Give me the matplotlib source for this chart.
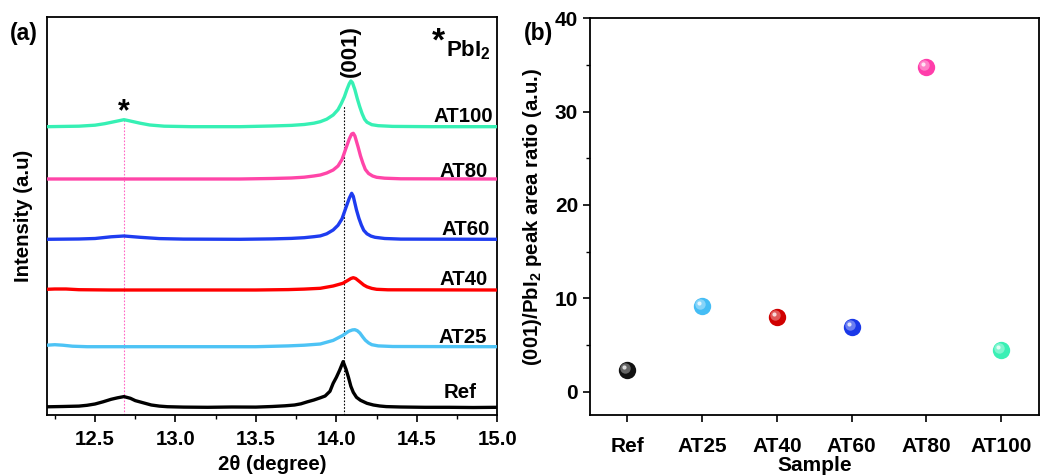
import matplotlib
matplotlib.use("Agg")
import matplotlib.pyplot as plt
from matplotlib.transforms import offset_copy
import matplotlib.colors as mcolors

plt.rcParams['font.family'] = ['Liberation Sans', 'DejaVu Sans']
plt.rcParams['font.weight'] = 'bold'
plt.rcParams['mathtext.default'] = 'regular'

# ---------------- Panel (a) data: XRD patterns (intensity above own baseline) ----------------
ref_x = [12.20, 12.30, 12.40, 12.45, 12.50, 12.55, 12.60, 12.64, 12.68, 12.72, 12.75, 12.80, 12.85, 12.90, 12.95,
         13.05, 13.20, 13.35, 13.50, 13.60, 13.68, 13.74, 13.78, 13.82, 13.86, 13.90, 13.93, 13.96, 13.98, 14.00,
         14.02, 14.042, 14.06, 14.075, 14.09, 14.105, 14.125, 14.15, 14.19, 14.23, 14.27, 14.31, 14.40, 14.55,
         14.70, 14.85, 15.00]
ref_y = [0.5, 0.8, 1.2, 2.0, 3.3, 5.5, 8.0, 9.5, 10.7, 9.0, 6.7, 4.5, 2.3, 1.2, 0.6,
         0.2, 0.0, 0.3, 0.2, 0.8, 1.5, 2.3, 3.5, 5.5, 7.3, 9.5, 11.3, 16.0, 24.0, 30.0,
         37.0, 45.7, 38.0, 30.0, 21.0, 15.0, 10.0, 7.0, 4.0, 2.3, 1.3, 0.7, 0.3, 0.0,
         0.0, -0.2, 0.0]

at25_x = [12.20, 12.25, 12.30, 12.36, 12.45, 13.00, 13.50, 13.70, 13.80, 13.90, 13.98, 14.04, 14.075, 14.10,
          14.115, 14.13, 14.146, 14.165, 14.18, 14.20, 14.22, 14.26, 14.35, 15.00]
at25_y = [1.5, 2.0, 1.5, 0.5, 0.0, 0.0, 0.0, 0.8, 1.5, 2.7, 6.3, 11.3, 15.3, 16.8,
          17.0, 16.0, 13.7, 9.5, 6.5, 3.8, 2.0, 0.8, 0.2, 0.0]

at40_x = [12.20, 12.25, 12.32, 12.40, 12.60, 13.00, 13.50, 13.70, 13.80, 13.90, 13.98, 14.04, 14.07, 14.09,
          14.105, 14.12, 14.145, 14.17, 14.19, 14.22, 14.25, 14.32, 15.00]
at40_y = [0.7, 1.0, 1.0, 0.3, 0.0, 0.0, 0.0, 0.4, 0.9, 1.7, 4.0, 6.7, 9.5, 11.5,
          12.3, 11.5, 8.3, 5.0, 3.2, 1.6, 0.7, 0.2, 0.0]

at60_x = [12.20, 12.40, 12.50, 12.60, 12.68, 12.78, 12.90, 13.05, 13.40, 13.60, 13.72, 13.80, 13.86, 13.90,
          13.94, 13.98, 14.01, 14.035, 14.06, 14.08, 14.095, 14.105, 14.125, 14.14, 14.155, 14.17, 14.19,
          14.215, 14.24, 14.30, 14.40, 15.00]
at60_y = [0.0, 0.3, 0.8, 2.5, 3.3, 2.0, 0.7, 0.2, 0.0, 0.4, 0.9, 1.6, 2.6, 3.4,
          5.5, 9.3, 14.0, 20.5, 32.0, 41.0, 46.0, 43.0, 29.3, 21.0, 14.3, 9.0, 5.5,
          3.2, 2.0, 0.8, 0.2, 0.0]

at80_x = [12.20, 13.00, 13.40, 13.60, 13.72, 13.80, 13.86, 13.90, 13.94, 13.98, 14.01, 14.035, 14.06, 14.08,
          14.095, 14.105, 14.115, 14.135, 14.15, 14.165, 14.18, 14.20, 14.225, 14.25, 14.30, 14.40, 15.00]
at80_y = [0.0, 0.0, 0.0, 0.5, 1.0, 1.8, 3.0, 4.0, 6.0, 9.0, 13.0, 19.5, 31.0, 40.0,
          45.0, 45.7, 43.0, 32.0, 23.0, 15.7, 9.5, 5.5, 3.0, 1.7, 0.8, 0.2, 0.0]

at100_x = [12.20, 12.40, 12.50, 12.56, 12.62, 12.68, 12.71, 12.78, 12.84, 12.93, 13.10, 13.40, 13.60, 13.72,
           13.80, 13.86, 13.90, 13.94, 13.98, 14.01, 14.03, 14.05, 14.065, 14.08, 14.09, 14.10, 14.115, 14.13,
           14.145, 14.16, 14.175, 14.19, 14.22, 14.26, 14.35, 14.60, 15.00]
at100_y = [0.0, 0.5, 1.5, 3.0, 5.0, 7.0, 6.0, 3.5, 1.7, 0.5, 0.0, 0.0, 0.7, 1.3,
           2.2, 3.5, 5.0, 7.5, 11.7, 17.0, 23.0, 30.0, 37.0, 43.0, 45.7, 44.0, 37.0, 28.0,
           20.0, 13.0, 7.5, 4.5, 2.0, 1.0, 0.3, 0.0, 0.0]

pattern_names = ['Ref', 'AT25', 'AT40', 'AT60', 'AT80', 'AT100']
pattern_offsets = [7.7, 68.3, 125.0, 175.7, 236.0, 288.3]
pattern_colors = ['#000000', '#4DC3F5', '#FF0000', '#1E3CF0', '#FF45A8', '#36F0B4']
xrd_xticks = [12.5, 13.0, 13.5, 14.0, 14.5, 15.0]
peak_001 = 14.046
peak_pbi2 = 12.68

# ---------------- Panel (b) data ----------------
samples = ['Ref', 'AT25', 'AT40', 'AT60', 'AT80', 'AT100']
area_ratio = [2.35, 9.2, 7.95, 6.95, 34.8, 4.45]
sphere_colors = ['#111111', '#45BDF5', '#D00000', '#1A38E8', '#FF3DAA', '#3AF0B5']
ratio_yticks = [0, 10, 20, 30, 40]

fig = plt.figure(figsize=(10.43, 4.75), dpi=100)
axa = fig.add_axes([0.0448, 0.1263, 0.4320, 0.8369])
axb = fig.add_axes([0.5657, 0.1263, 0.4300, 0.8352])

FS = 14.7
curves = [(ref_x, ref_y), (at25_x, at25_y), (at40_x, at40_y), (at60_x, at60_y), (at80_x, at80_y), (at100_x, at100_y)]
for (xs, ys), off, col in zip(curves, pattern_offsets, pattern_colors):
    axa.plot(xs, [v + off for v in ys], color=col, lw=2.4, solid_joinstyle='round', zorder=3)

axa.plot([peak_001, peak_001], [0, 309], color='black', lw=0.8, ls=(0, (1.5, 1.5)), zorder=2)
axa.plot([peak_pbi2, peak_pbi2], [0, 295], color='#FF66C4', lw=0.8, ls=(0, (1.5, 1.5)), zorder=2)

label_y = [23, 78, 135, 185, 243, 298]
label_x = [14.874, 14.936, 14.943, 14.955, 14.943, 14.974]
for name, lx, ly in zip(pattern_names, label_x, label_y):
    axa.text(lx, ly, name, ha='right', va='center', fontsize=FS, fontweight='bold')

axa.text(14.087, 364, '(001)', rotation=90, ha='center', va='center', fontsize=16, fontweight='bold')
axa.text(peak_pbi2, 303, '*', ha='center', va='center', fontsize=22, fontweight='bold')
axa.text(14.635, 373, '*', ha='center', va='center', fontsize=24, fontweight='bold')
axa.text(14.68, 365, 'PbI$_2$', ha='left', va='center', fontsize=16, fontweight='bold')

axa.set_xlim(12.2, 15.0)
axa.set_ylim(0, 397.5)
axa.set_xticks(xrd_xticks)
axa.set_xticklabels([f'{t:.1f}' for t in xrd_xticks])
axa.set_xticks([12.25, 12.75, 13.25, 13.75, 14.25, 14.75], minor=True)
axa.set_yticks([])
axa.tick_params(axis='x', which='major', direction='out', length=5, width=1.2, labelsize=FS, pad=6)
axa.tick_params(axis='x', which='minor', direction='out', length=3, width=1.0)
for lab in axa.get_xticklabels():
    lab.set_fontweight('bold')
axa.set_xlabel('2θ (degree)', fontsize=FS, fontweight='bold', labelpad=4)
axa.set_ylabel('Intensity (a.u)', fontsize=FS, fontweight='bold', labelpad=10)
for s in axa.spines.values():
    s.set_linewidth(1.3)
fig.text(0.009, 0.930, '(a)', fontsize=16.5, fontweight='bold', ha='left', va='center')

# ---------------- Panel (b) ----------------
xpos = list(range(1, len(samples) + 1))
hl = offset_copy(axb.transData, fig=fig, x=-2.0, y=2.0, units='dots')
hl2 = offset_copy(axb.transData, fig=fig, x=-3.0, y=3.0, units='dots')
for x, y, c in zip(xpos, area_ratio, sphere_colors):
    rgb = mcolors.to_rgb(c)
    light = tuple(v + (1 - v) * 0.35 for v in rgb)
    lighter = tuple(v + (1 - v) * 0.85 for v in rgb)
    axb.plot([x], [y], 'o', ms=12.5, color=c, mec='none', zorder=3)
    axb.plot([x], [y], 'o', ms=7.5, color=light, mec='none', zorder=4, transform=hl)
    axb.plot([x], [y], 'o', ms=3, color=lighter, mec='none', zorder=5, transform=hl2)

axb.set_xlim(0.5, 6.5)
axb.set_ylim(-2.5, 40)
axb.set_xticks(xpos)
axb.set_xticklabels(samples)
axb.set_yticks(ratio_yticks)
axb.set_yticks([5, 15, 25, 35], minor=True)
axb.tick_params(axis='both', which='major', direction='out', length=5, width=1.2, labelsize=15)
axb.tick_params(axis='y', which='minor', direction='out', length=3, width=1.0)
axb.tick_params(axis='x', pad=11)
for lab in axb.get_xticklabels() + axb.get_yticklabels():
    lab.set_fontweight('bold')
axb.set_xlabel('Sample', fontsize=15, fontweight='bold', labelpad=0)
axb.set_ylabel('(001)/PbI$_2$ peak area ratio (a.u.)', fontsize=FS, fontweight='bold', labelpad=8)
for s in axb.spines.values():
    s.set_linewidth(1.3)
fig.text(0.502, 0.930, '(b)', fontsize=16.5, fontweight='bold', ha='left', va='center')

fig.savefig('out.png', dpi=100)
